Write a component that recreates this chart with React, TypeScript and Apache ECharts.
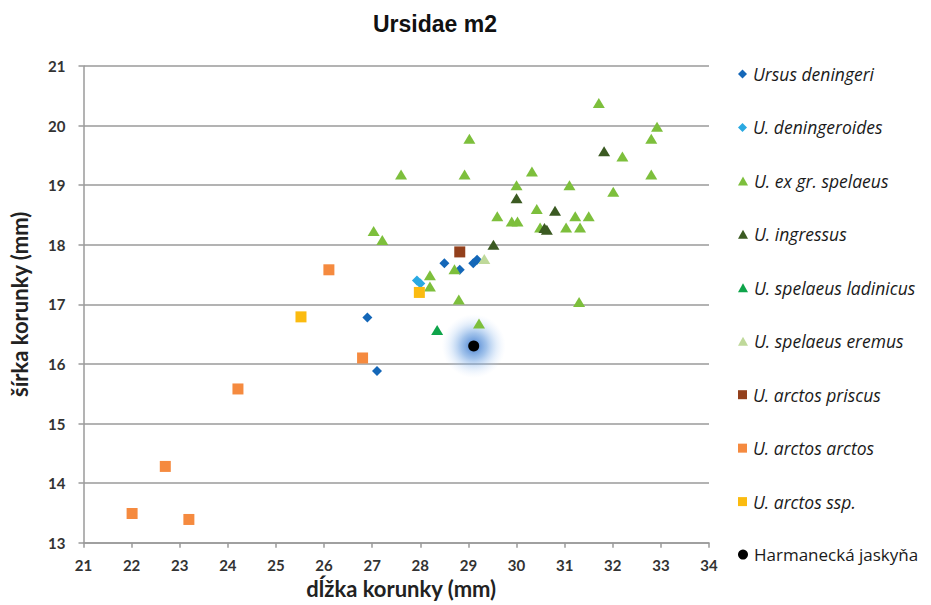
import React, { useEffect, useRef } from "react";
import * as echarts from "echarts";

const seriesNames = [
  "Ursus deningeri",
  "U. deningeroides",
  "U. ex gr. spelaeus",
  "U. ingressus",
  "U. spelaeus ladinicus",
  "U. spelaeus eremus",
  "U. arctos priscus",
  "U. arctos arctos",
  "U. arctos ssp.",
  "Harmanecká jaskyňa",
];

const ursusDeningeri = [
  [26.9, 16.78], [27.1, 15.88], [28.5, 17.69], [28.82, 17.58], [29.1, 17.69], [29.18, 17.75],
];
const uDeningeroides = [
  [27.93, 17.4], [28.0, 17.35],
];
const uExGrSpelaeus = [
  [27.6, 19.18], [27.03, 18.23], [27.21, 18.08], [31.71, 20.38], [32.92, 19.98], [32.8, 19.78],
  [29.02, 19.78], [32.2, 19.48], [28.92, 19.18], [30.32, 19.23], [32.8, 19.18], [30.0, 19.0],
  [31.1, 19.0], [32.01, 18.89], [30.42, 18.6], [29.6, 18.48], [31.22, 18.48], [31.5, 18.48],
  [29.9, 18.39], [30.02, 18.39], [30.49, 18.29], [31.03, 18.29], [31.32, 18.29], [28.71, 17.59],
  [28.2, 17.49], [28.2, 17.3], [28.8, 17.08], [31.3, 17.04], [29.22, 16.68],
];
const uIngressus = [
  [31.82, 19.57], [30.0, 18.78], [30.8, 18.57], [30.63, 18.25], [30.58, 18.28], [29.52, 18.0],
];
const uSpelaeusLadinicus = [[28.35, 16.57]];
const uSpelaeusEremus = [[29.33, 17.76]];
const uArctosPriscus = [[28.82, 17.88]];
const uArctosArctos = [
  [26.1, 17.58], [26.8, 16.1], [24.21, 15.58], [22.7, 14.28], [22.01, 13.49], [23.19, 13.39],
];
const uArctosSsp = [
  [25.52, 16.79], [27.98, 17.2],
];
const harmanecka = [[29.11, 16.3]];

const xTicks = { min: 21, max: 34, interval: 1 };
const yTicks = { min: 13, max: 21, interval: 1 };

const colors = [
  "#1467b8", "#2aa9e2", "#7dbf3c", "#3b5a22", "#0ea44a",
  "#bfd99a", "#93401c", "#f58a3f", "#fbbb10", "#000000",
];
const symbols = ["diamond", "diamond", "triangle", "triangle", "triangle", "triangle", "rect", "rect", "rect", "circle"];
const sizes: any[] = [[10, 10], [10, 10], [12, 10], [12, 10], [12, 10], [12, 10], [11, 11], [11, 11], [11, 11], [11, 11]];
const dataSets = [
  ursusDeningeri, uDeningeroides, uExGrSpelaeus, uIngressus, uSpelaeusLadinicus,
  uSpelaeusEremus, uArctosPriscus, uArctosArctos, uArctosSsp, harmanecka,
];

export default function App() {
  const ref = useRef<HTMLDivElement>(null);
  useEffect(() => {
    if (!ref.current) return;
    const chart = echarts.init(ref.current, undefined, { renderer: "svg" });
    const legendIconSizes = [[9, 9], [9, 9], [10, 9], [10, 9], [10, 9], [10, 9], [9, 9], [9, 9], [9, 9], [10, 10]];
    const legends = seriesNames.map((n, i) => ({
      data: [{ name: n, icon: symbols[i] }],
      left: 733,
      top: 60 + i * 53.45,
      itemWidth: legendIconSizes[i][0],
      itemHeight: legendIconSizes[i][1],
      itemGap: 0,
      selectedMode: false,
      formatter: (name: string) => (i === 9 ? `{n|${name}}` : `{i|${name}}`),
      textStyle: {
        padding: [0, 0, 0, 1],
        rich: {
          i: { fontFamily: "Open Sans", fontStyle: "italic", fontSize: 17.5, color: "#1a1a1a", lineHeight: 20 },
          n: { fontFamily: "Open Sans", fontSize: 17, color: "#1a1a1a", lineHeight: 20 },
        },
      },
    }));
    const glow = {
      name: "glow",
      type: "scatter",
      data: harmanecka,
      symbol: "circle",
      symbolSize: 64,
      silent: true,
      z: 1,
      itemStyle: {
        opacity: 1,
        color: new echarts.graphic.RadialGradient(0.5, 0.5, 0.5, [
          { offset: 0, color: "rgba(60,120,205,0.95)" },
          { offset: 0.4, color: "rgba(100,155,222,0.6)" },
          { offset: 0.72, color: "rgba(150,190,238,0.25)" },
          { offset: 1, color: "rgba(200,220,250,0)" },
        ]),
      },
    };
    const series: any[] = [glow].concat(
      seriesNames.map((n, i) => ({
        name: n,
        type: "scatter",
        data: dataSets[i],
        symbol: symbols[i],
        symbolSize: sizes[i],
        itemStyle: { color: colors[i], opacity: 1 },
        z: i === 9 ? 3 : 2,
      })) as any
    );
    chart.setOption({
      animation: false,
      backgroundColor: "#ffffff",
      title: {
        text: "Ursidae m2",
        left: 430,
        textAlign: "center",
        top: 7,
        textStyle: { fontFamily: "Liberation Sans", fontWeight: "bold", fontSize: 23, color: "#111" },
      },
      legend: legends,
      grid: { left: 83.5, top: 66, right: 222, bottom: 62.3, containLabel: false },
      xAxis: {
        type: "value",
        min: xTicks.min,
        max: xTicks.max,
        interval: xTicks.interval,
        name: "dĺžka korunky (mm)",
        nameLocation: "middle",
        nameGap: 30,
        nameTextStyle: { fontFamily: "Lato", fontWeight: "bold", fontSize: 22, color: "#222", padding: [0, 0, 0, 10] },
        axisLine: { show: true, lineStyle: { color: "#9a9a9a", width: 1.5 } },
        axisTick: { show: true, inside: false, length: 5, lineStyle: { color: "#9a9a9a", width: 1.5 } },
        axisLabel: { margin: 15, fontFamily: "Lato", fontWeight: "bold", fontSize: 15, color: "#333" },
        splitLine: { show: false },
      },
      yAxis: {
        type: "value",
        min: yTicks.min,
        max: yTicks.max,
        interval: yTicks.interval,
        name: "šírka korunky (mm)",
        nameLocation: "middle",
        nameGap: 53,
        nameRotate: 90,
        nameTextStyle: { fontFamily: "Lato", fontWeight: "bold", fontSize: 22, color: "#222" },
        axisLine: { show: true, lineStyle: { color: "#9a9a9a", width: 1.5 } },
        axisTick: { show: true, inside: false, length: 5, lineStyle: { color: "#9a9a9a", width: 1.5 } },
        axisLabel: { margin: 18, fontFamily: "Lato", fontWeight: "bold", fontSize: 15, color: "#333" },
        splitLine: { show: true, lineStyle: { color: "#9a9a9a", width: 1.5 } },
      },
      series,
    });
    return () => chart.dispose();
  }, []);
  return <div ref={ref} style={{ width: 931, height: 605, position: "absolute", left: 0, top: 0 }} />;
}
